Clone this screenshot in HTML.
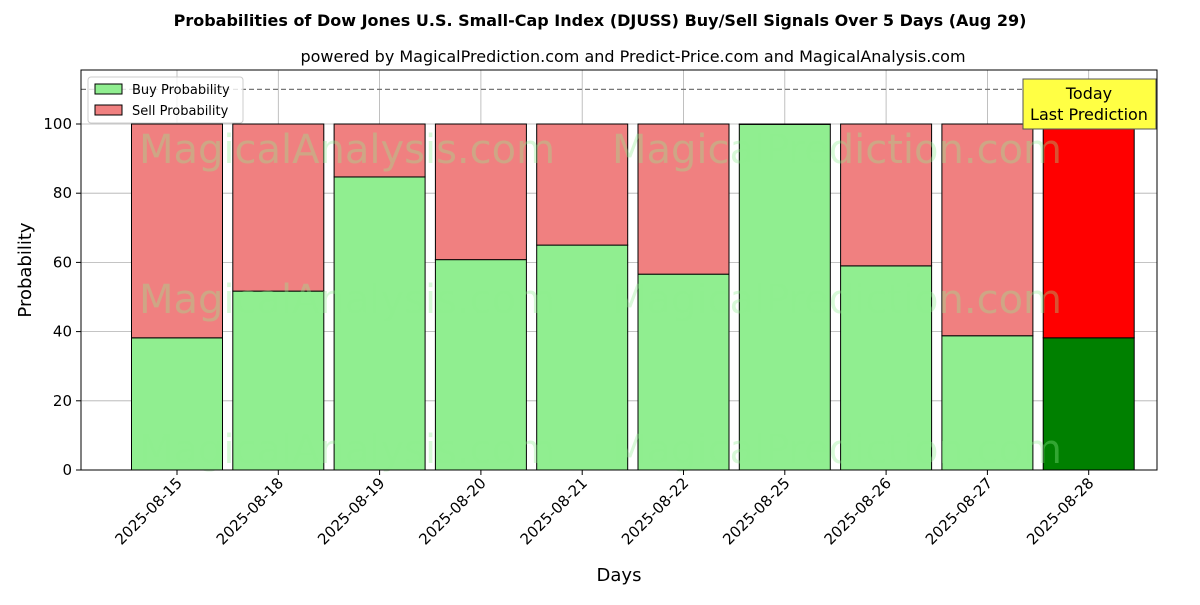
<!DOCTYPE html>
<html><head><meta charset="utf-8"><style>
body{margin:0;background:#fff;font-family:"Liberation Sans","DejaVu Sans",sans-serif}
</style></head><body>
<svg id="chart" width="1200" height="600" xmlns="http://www.w3.org/2000/svg" font-family="DejaVu Sans, Liberation Sans, sans-serif">
<rect width="1200" height="600" fill="#fff"/>
<text x="600" y="26" text-anchor="middle" font-size="16" font-weight="bold">Probabilities of Dow Jones U.S. Small-Cap Index (DJUSS) Buy/Sell Signals Over 5 Days (Aug 29)</text>
<text x="633" y="62" text-anchor="middle" font-size="16">powered by MagicalPrediction.com and Predict-Price.com and MagicalAnalysis.com</text>
<g id="grid"></g>
<g id="bars"></g>
<g font-size="40" fill="#90ee90" fill-opacity="0.35">
<text x="347" y="163" text-anchor="middle">MagicalAnalysis.com</text>
<text x="837" y="163" text-anchor="middle">MagicalPrediction.com</text>
<text x="347" y="313" text-anchor="middle">MagicalAnalysis.com</text>
<text x="837" y="313" text-anchor="middle">MagicalPrediction.com</text>
<text x="347" y="463" text-anchor="middle">MagicalAnalysis.com</text>
<text x="837" y="463" text-anchor="middle">MagicalPrediction.com</text>
</g>
<line x1="81" x2="1157" y1="89.4" y2="89.4" stroke="#777" stroke-width="1.2" stroke-dasharray="5,3"/>
<rect x="81" y="70" width="1076" height="400" fill="none" stroke="#000" stroke-width="1"/>
<g id="ticks" font-size="15"></g>
<text transform="translate(31,270) rotate(-90)" text-anchor="middle" font-size="18">Probability</text>
<text x="619" y="581" text-anchor="middle" font-size="18">Days</text>
<g>
<rect x="88" y="77" width="155" height="46" fill="#fff" fill-opacity="0.8" stroke="#ccc" rx="3"/>
<rect x="95" y="84" width="27" height="10" fill="#90ee90" stroke="#000"/>
<text x="132" y="94" font-size="13">Buy Probability</text>
<rect x="95" y="105" width="27" height="10" fill="#f08080" stroke="#000"/>
<text x="132" y="115" font-size="13">Sell Probability</text>
</g>
<g>
<rect x="1023" y="79" width="133" height="50" fill="#ffff44" stroke="#555"/>
<text x="1089" y="99" text-anchor="middle" font-size="16">Today</text>
<text x="1089" y="120" text-anchor="middle" font-size="16">Last Prediction</text>
</g>
</svg>
<script>
const categories=["2025-08-15","2025-08-18","2025-08-19","2025-08-20","2025-08-21","2025-08-22","2025-08-25","2025-08-26","2025-08-27","2025-08-28"];
const buyValues=[38.2,51.7,84.7,60.8,65.0,56.6,99.9,59.0,38.8,38.2];
const sellValues=[61.8,48.3,15.3,39.2,35.0,43.4,0.1,41.0,61.2,61.8];
const yTicks=[0,20,40,60,80,100];
const NS="http://www.w3.org/2000/svg";
const x=i=>177+i*101.3;
const y=v=>470-v*3.46;
const bw=91;
function mk(tag,attrs,parent){const e=document.createElementNS(NS,tag);for(const k in attrs)e.setAttribute(k,attrs[k]);parent.appendChild(e);return e;}
const grid=document.getElementById('grid'),bars=document.getElementById('bars'),ticks=document.getElementById('ticks');
yTicks.forEach(t=>{
 const g=mk('line',{x1:81,x2:1157,y1:y(t),y2:y(t),stroke:'#b0b0b0','stroke-width':0.8},grid);
 
 
 const tk=mk('line',{x1:76,x2:81,y1:y(t),y2:y(t),stroke:'#000'},ticks);
 
 
 const tl=mk('text',{x:72,y:y(t)+5,'text-anchor':'end'},ticks);tl.textContent=t;
 
 
});
categories.forEach((c,i)=>{
 const g=mk('line',{x1:x(i),x2:x(i),y1:70,y2:470,stroke:'#b0b0b0','stroke-width':0.8},grid);
 
 
 const last=i===categories.length-1;
 const b=mk('rect',{x:x(i)-bw/2,y:y(buyValues[i]),width:bw,height:buyValues[i]*3.46,fill:last?'#008000':'#90ee90',stroke:'#000'},bars);
 
 
 const s=mk('rect',{x:x(i)-bw/2,y:y(buyValues[i]+sellValues[i]),width:bw,height:sellValues[i]*3.46,fill:last?'#ff0000':'#f08080',stroke:'#000'},bars);
 
 
 const tk=mk('line',{x1:x(i),x2:x(i),y1:470,y2:475,stroke:'#000'},ticks);
 
 
 const tl=mk('text',{x:x(i)+6,y:484,'text-anchor':'end',transform:`rotate(-45 ${x(i)+6} 484)`},ticks);tl.textContent=c;
 
 
});
</script>
</body></html>
